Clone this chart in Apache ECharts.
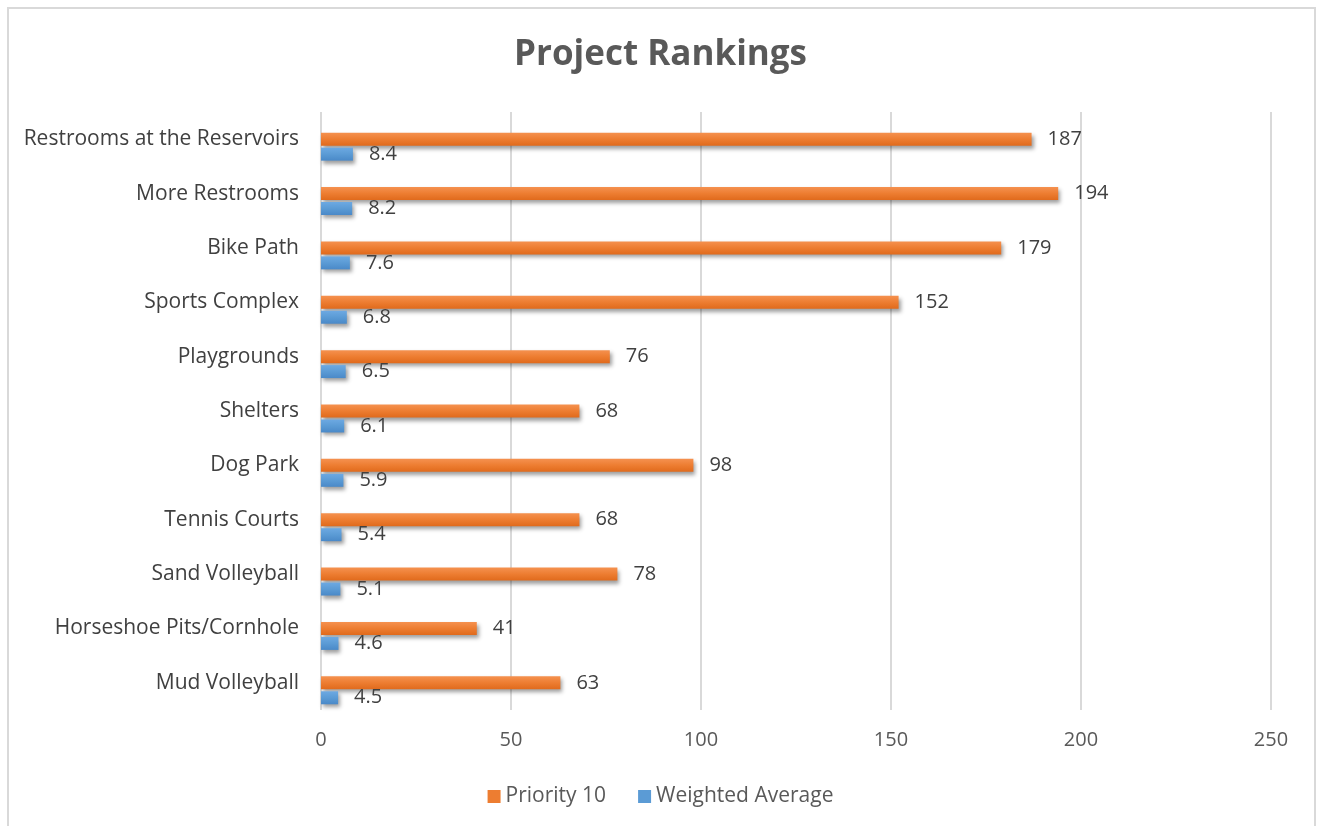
<!DOCTYPE html>
<html>
<head>
<meta charset="utf-8">
<script src="https://cdn.jsdelivr.net/npm/echarts@6/dist/echarts.min.js"></script>
<style>
html,body{margin:0;padding:0;background:#fff;}
#frame{position:absolute;left:7px;top:7px;width:1309px;height:830px;border:2px solid #D9D9D9;box-sizing:border-box;}
#chart{position:absolute;left:0;top:0;width:1321px;height:826px;}
</style>
</head>
<body>
<div id="frame"></div>
<div id="chart"></div>
<script>
const categories = ["Restrooms at the Reservoirs","More Restrooms","Bike Path","Sports Complex","Playgrounds","Shelters","Dog Park","Tennis Courts","Sand Volleyball","Horseshoe Pits/Cornhole","Mud Volleyball"];
const priority10 = [187,194,179,152,76,68,98,68,78,41,63];
const weightedAverage = [8.4,8.2,7.6,6.8,6.5,6.1,5.9,5.4,5.1,4.6,4.5];
const placeholder = [null,null,null,null,null,null,null,null,null,null,null];
const xTicks = [0,50,100,150,200,250];

const FONT = "Open Sans";
const chart = echarts.init(document.getElementById('chart'));
const shadow = {shadowColor:'rgba(0,0,0,0.38)', shadowBlur:4, shadowOffsetX:2, shadowOffsetY:3};
const orangeGrad = new echarts.graphic.LinearGradient(0,0,0,1,[{offset:0,color:'#F5914F'},{offset:0.5,color:'#ED7D31'},{offset:1,color:'#E06A1C'}]);
const blueGrad = new echarts.graphic.LinearGradient(0,0,0,1,[{offset:0,color:'#6DA9E2'},{offset:0.5,color:'#5B9BD5'},{offset:1,color:'#4A89C8'}]);
const labelStyle = {show:true, position:'right', distance:16, color:'#404040', fontFamily:FONT, fontSize:20};

chart.setOption({
  animation:false,
  title:{text:'Project Rankings', left:'center', top:33, textStyle:{fontFamily:FONT, fontWeight:'bold', fontSize:35, color:'#595959'}},
  legend:{bottom:14, left:'center', itemWidth:13, itemHeight:13, itemGap:32, icon:'rect',
    textStyle:{fontFamily:FONT, fontSize:21, color:'#595959'},
    data:[{name:'Priority 10', itemStyle:{color:'#ED7D31'}},{name:'Weighted Average', itemStyle:{color:'#5B9BD5'}}]},
  grid:{left:321, right:50, top:112, bottom:116},
  xAxis:{type:'value', min:xTicks[0], max:xTicks[xTicks.length-1], interval:50,
    axisLine:{show:false}, axisTick:{show:false},
    splitLine:{show:true, lineStyle:{color:'#D9D9D9', width:2}},
    axisLabel:{margin:20, color:'#595959', fontFamily:FONT, fontSize:20}},
  yAxis:{type:'category', data:categories, inverse:true,
    axisLine:{show:false}, axisTick:{show:false},
    axisLabel:{margin:22, color:'#404040', fontFamily:FONT, fontSize:21}},
  series:[
    {name:'_pad', type:'bar', data:placeholder, barWidth:13, barGap:'15%', silent:true},
    {name:'Priority 10', type:'bar', data:priority10, barWidth:13, barGap:'15%', itemStyle:Object.assign({color:orangeGrad}, shadow), label:labelStyle},
    {name:'Weighted Average', type:'bar', data:weightedAverage, barWidth:13, barGap:'15%', itemStyle:Object.assign({color:blueGrad}, shadow), label:labelStyle}
  ]
});
</script>
</body>
</html>
